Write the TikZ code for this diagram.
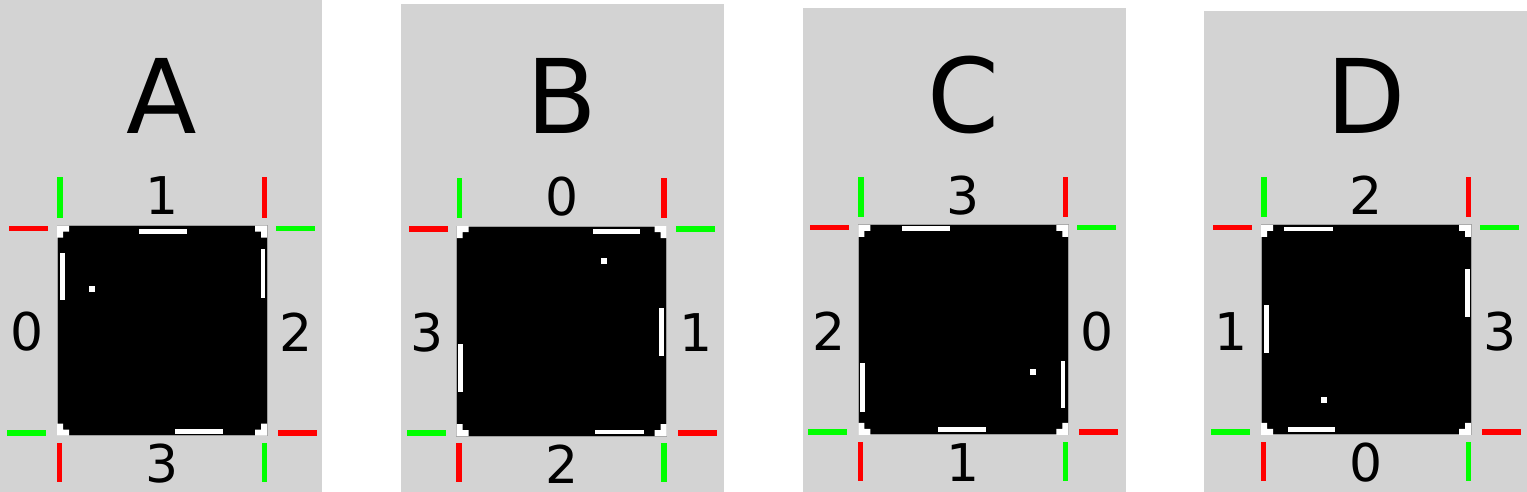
\documentclass[tikz,border=0pt]{standalone}
\usepackage{fontspec}
\setmainfont{DejaVu Sans}
\definecolor{panelgray}{HTML}{D3D3D3}
\definecolor{tickgreen}{HTML}{00FF00}
\definecolor{tickred}{HTML}{FF0000}
\begin{document}
\begin{tikzpicture}[x=0.5pt,y=-0.5pt,
  panel/.style={fill=panelgray,draw=none},
  screen/.style={fill=black,draw=gray!75,line width=0.5pt},
  paddle/.style={fill=white,draw=none},
  tickG/.style={fill=tickgreen,draw=none},
  tickR/.style={fill=tickred,draw=none},
  biglabel/.style={font=\fontsize{51.5}{60}\selectfont,inner sep=0pt},
  sidelabel/.style={font=\fontsize{26}{30}\selectfont,inner sep=0pt}]
\useasboundingbox (0,0) rectangle (1527,492);
\fill[white] (0,0) rectangle (1527,492);
\foreach \k/\cx/\cy/\pl/\pr/\pt/\name/\la/\lt/\lr/\lb in
  {0/162/330.5/0/322/0/A/0/1/2/3,
   1/561.7/331.2/401/724/4/B/3/0/1/2,
   2/963.3/329.8/803/1125.5/8/C/2/3/0/1,
   3/1366/329.8/1204/1527/11/D/1/2/3/0}{
  \fill[panel] (\pl,\pt) rectangle (\pr,492);
  \node[biglabel] (title\name) at (\cx,95.5) {\name};
  \begin{scope}[shift={(\cx,\cy)}]
    \draw[screen] (-105,-105) rectangle (105,105);
    % corner marks
    \fill[white] (-105,-105) rectangle (-93,-99) (-105,-99) rectangle (-99,-93);
    \fill[white] (105,-105) rectangle (93,-99) (105,-99) rectangle (99,-93);
    \fill[white] (-105,105) rectangle (-93,99) (-105,99) rectangle (-99,93);
    \fill[white] (105,105) rectangle (93,99) (105,99) rectangle (99,93);
    % ticks
    \fill[tickG] (-105,-153) rectangle (-99.5,-113);
    \fill[tickR] (-153,-105) rectangle (-114,-99.5);
    \fill[tickR] (99.5,-153) rectangle (105,-113);
    \fill[tickG] (114,-105) rectangle (153,-99.5);
    \fill[tickG] (-155,99) rectangle (-116,105);
    \fill[tickR] (-105.5,112) rectangle (-100,151);
    \fill[tickR] (116,99) rectangle (155,105);
    \fill[tickG] (99.5,112) rectangle (105,151);
    % side labels
    \node[sidelabel] (left\name) at (-134.5,1.5) {\la};
    \node[sidelabel] (top\name) at (0,-134.5) {\lt};
    \node[sidelabel] (right\name) at (134,1.5) {\lr};
    \node[sidelabel] (bottom\name) at (0,133) {\lb};
  \end{scope}
  \begin{scope}[shift={(\cx,\cy)},rotate=-90*\k]
    \fill[paddle] (-23,-102) rectangle (25,-97);
    \fill[paddle] (-102,-78) rectangle (-97.5,-31);
    \fill[paddle] (98.5,-82) rectangle (103,-33);
    \fill[paddle] (13,98.5) rectangle (61,103.5);
    \fill[paddle] (-73,-45) rectangle (-67,-39);
  \end{scope}
}
\end{tikzpicture}
\end{document}
